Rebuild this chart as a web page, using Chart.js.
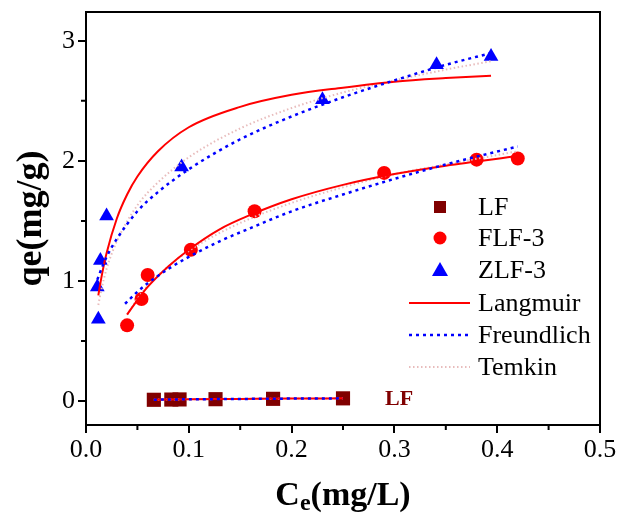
<!DOCTYPE html>
<html><head><meta charset="utf-8">
<script src="https://cdn.jsdelivr.net/npm/chart.js@4/dist/chart.umd.min.js"></script>
<style>html,body{margin:0;padding:0;background:#fff;}#wrap{width:622px;height:517px;}</style>
</head><body><div id="wrap"><canvas id="c" width="622" height="517"></canvas></div>
<script>
// ---- data ----
const xTicks = [0, 0.1, 0.2, 0.3, 0.4, 0.5];
const xMinor = [0.05, 0.15, 0.25, 0.35, 0.45];
const yTicks = [0, 1, 2, 3];
const yMinor = [0.5, 1.5, 2.5];

const lfX = [0.066, 0.083, 0.091, 0.126, 0.182, 0.250];
const lfY = [0.010, 0.012, 0.013, 0.015, 0.018, 0.022];
const flfX = [0.040, 0.054, 0.060, 0.102, 0.164, 0.290, 0.380, 0.420];
const flfY = [0.63, 0.85, 1.05, 1.26, 1.58, 1.90, 2.01, 2.02];
const zlfX = [0.012, 0.011, 0.014, 0.020, 0.093, 0.230, 0.341, 0.394];
const zlfY = [0.68, 0.95, 1.17, 1.54, 1.95, 2.51, 2.80, 2.87];

const zlfLangX = [0.012,0.015,0.02,0.03,0.04,0.05,0.07,0.1,0.15,0.2,0.25,0.3,0.35,0.394];
const zlfLangY = [0.88,1.03,1.23,1.52,1.72,1.87,2.08,2.28,2.45,2.55,2.61,2.66,2.69,2.71];
const zlfFreuX = [0.011,0.015,0.02,0.03,0.05,0.07,0.1,0.15,0.2,0.25,0.3,0.35,0.395];
const zlfFreuY = [1.01,1.10,1.20,1.35,1.58,1.74,1.93,2.18,2.37,2.53,2.67,2.80,2.90];
const zlfTemX = [0.012,0.015,0.02,0.03,0.05,0.07,0.1,0.15,0.2,0.25,0.3,0.35,0.394];
const zlfTemY = [0.80,0.93,1.10,1.33,1.63,1.82,2.03,2.27,2.44,2.57,2.67,2.76,2.83];
const flfLangX = [0.04,0.05,0.06,0.08,0.1,0.13,0.16,0.2,0.25,0.3,0.35,0.42];
const flfLangY = [0.72,0.84,0.95,1.12,1.26,1.43,1.55,1.68,1.80,1.89,1.96,2.04];
const flfFreuX = [0.038,0.05,0.06,0.08,0.1,0.13,0.16,0.2,0.25,0.3,0.35,0.42];
const flfFreuY = [0.81,0.91,0.98,1.10,1.20,1.33,1.44,1.58,1.72,1.85,1.97,2.12];
const flfTemX = [0.04,0.05,0.06,0.08,0.1,0.13,0.16,0.2,0.25,0.3,0.35,0.42];
const flfTemY = [0.72,0.85,0.96,1.12,1.25,1.40,1.52,1.65,1.78,1.89,1.97,2.08];
const lfFitX = [0.066,0.1,0.15,0.2,0.25];
const lfFitY = [0.011,0.014,0.017,0.020,0.022];

const legendLabels = ['LF','FLF-3','ZLF-3','Langmuir','Freundlich','Temkin'];

// ---- styles ----
const SERIF = "'Liberation Serif','Times New Roman',serif";
const C_LF = '#800000', C_RED = '#ff0000', C_BLUE = '#0000ff', C_TEM = '#e8bcbc';
const pts = (xs, ys) => xs.map((x, i) => ({x, y: ys[i]}));

function lineDs(xs, ys, kind) {
  const s = {
    langmuir: {borderColor: C_RED, borderWidth: 2, borderDash: [], order: 1},
    freundlich: {borderColor: C_BLUE, borderWidth: 2.5, borderDash: [3, 4], order: 0},
    temkin: {borderColor: C_TEM, borderWidth: 2, borderDash: [1.5, 2.5], order: 2}
  }[kind];
  return Object.assign({data: pts(xs, ys), showLine: true, pointRadius: 0, fill: false,
    cubicInterpolationMode: 'monotone'}, s);
}

const datasets = [
  {data: pts(lfX, lfY), pointStyle: 'rect', pointRadius: 10, backgroundColor: C_LF, borderColor: C_LF, borderWidth: 0, order: 5},
  {data: pts(flfX, flfY), pointStyle: 'circle', pointRadius: 7, backgroundColor: C_RED, borderColor: C_RED, borderWidth: 0, order: 5},
  {data: pts(zlfX, zlfY), pointStyle: 'triangle', pointRadius: 8.5, backgroundColor: C_BLUE, borderColor: C_BLUE, borderWidth: 0, order: 5},
  lineDs(zlfTemX, zlfTemY, 'temkin'),
  lineDs(flfTemX, flfTemY, 'temkin'),
  lineDs(lfFitX, lfFitY, 'temkin'),
  lineDs(zlfLangX, zlfLangY, 'langmuir'),
  lineDs(flfLangX, flfLangY, 'langmuir'),
  lineDs(lfFitX, lfFitY, 'langmuir'),
  lineDs(zlfFreuX, zlfFreuY, 'freundlich'),
  lineDs(flfFreuX, flfFreuY, 'freundlich'),
  lineDs(lfFitX, lfFitY, 'freundlich')
];

const deco = {
  id: 'deco',
  afterDraw(chart) {
    const {ctx, chartArea: a, scales: {x, y}} = chart;
    ctx.save();
    ctx.strokeStyle = '#000'; ctx.lineWidth = 2;
    ctx.strokeRect(a.left, a.top, a.right - a.left, a.bottom - a.top);
    ctx.beginPath();
    xMinor.forEach(v => { const p = x.getPixelForValue(v); ctx.moveTo(p, a.bottom); ctx.lineTo(p, a.bottom + 5); });
    yMinor.forEach(v => { const p = y.getPixelForValue(v); ctx.moveTo(a.left, p); ctx.lineTo(a.left - 5, p); });
    ctx.stroke();

    // x title with subscript
    ctx.fillStyle = '#000';
    ctx.textBaseline = 'alphabetic';
    ctx.textAlign = 'left';
    const big = 'bold 34px ' + SERIF, small = 'bold 24px ' + SERIF;
    ctx.font = big; const wC = ctx.measureText('C').width; const wR = ctx.measureText('(mg/L)').width;
    ctx.font = small; const wE = ctx.measureText('e').width;
    let sx = (a.left + a.right) / 2 - (wC + wE + wR) / 2; const by = 505;
    ctx.font = big; ctx.fillText('C', sx, by); sx += wC;
    ctx.font = small; ctx.fillText('e', sx, by + 5); sx += wE;
    ctx.font = big; ctx.fillText('(mg/L)', sx, by);

    // y title
    ctx.save();
    ctx.translate(32, (a.top + a.bottom) / 2);
    ctx.rotate(-Math.PI / 2);
    ctx.textAlign = 'center'; ctx.textBaseline = 'middle';
    ctx.font = 'bold 36px ' + SERIF; ctx.fillText('qe(mg/g)', 0, 0);
    ctx.restore();

    // LF annotation
    ctx.font = 'bold 22px ' + SERIF; ctx.fillStyle = C_LF;
    ctx.textAlign = 'left'; ctx.textBaseline = 'middle';
    ctx.fillText('LF', 385, 399);

    // legend
    const rows = [207, 238, 270, 303, 335, 367];
    const mx = 440;
    ctx.fillStyle = C_LF; ctx.fillRect(mx - 6, rows[0] - 6, 12, 12);
    ctx.fillStyle = C_RED; ctx.beginPath(); ctx.arc(mx, rows[1], 6.5, 0, Math.PI * 2); ctx.fill();
    ctx.fillStyle = C_BLUE; ctx.beginPath();
    ctx.moveTo(mx, rows[2] - 8); ctx.lineTo(mx + 8, rows[2] + 6); ctx.lineTo(mx - 8, rows[2] + 6); ctx.closePath(); ctx.fill();
    const seg = (yy, col, w, dash) => { ctx.strokeStyle = col; ctx.lineWidth = w; ctx.setLineDash(dash);
      ctx.beginPath(); ctx.moveTo(409, yy); ctx.lineTo(470, yy); ctx.stroke(); };
    seg(rows[3], C_RED, 2, []);
    seg(rows[4], C_BLUE, 2.5, [3, 4]);
    seg(rows[5], C_TEM, 2, [1.5, 2.5]);
    ctx.setLineDash([]);
    ctx.fillStyle = '#000'; ctx.font = '26px ' + SERIF; ctx.textAlign = 'left'; ctx.textBaseline = 'middle';
    legendLabels.forEach((t, i) => ctx.fillText(t, 478, rows[i] + 1));
    ctx.restore();
  }
};

new Chart(document.getElementById('c'), {
  type: 'scatter',
  data: {datasets},
  options: {
    responsive: false, devicePixelRatio: 1, animation: false,
    layout: {padding: {left: 0, right: 22, top: 12, bottom: 0}},
    plugins: {legend: {display: false}, tooltip: {enabled: false}},
    elements: {line: {tension: 0}},
    scales: {
      x: {
        type: 'linear', min: 0, max: 0.5,
        afterBuildTicks: s => { s.ticks = xTicks.map(v => ({value: v})); },
        afterFit: s => { s.height = 92; s.paddingLeft = 0; s.paddingRight = 0; },
        ticks: {callback: v => Number(v).toFixed(1), font: {family: SERIF, size: 26}, color: '#000', padding: 2, maxRotation: 0, autoSkip: false},
        grid: {drawOnChartArea: false, drawTicks: true, tickLength: 8, lineWidth: 2, color: '#000'},
        border: {display: false}
      },
      y: {
        type: 'linear', min: -0.2, max: 3.24,
        afterBuildTicks: s => { s.ticks = yTicks.map(v => ({value: v})); },
        afterFit: s => { s.width = 86; s.paddingTop = 0; s.paddingBottom = 0; },
        ticks: {callback: v => String(v), font: {family: SERIF, size: 26}, color: '#000', padding: 3, autoSkip: false},
        grid: {drawOnChartArea: false, drawTicks: true, tickLength: 8, lineWidth: 2, color: '#000'},
        border: {display: false}
      }
    }
  },
  plugins: [deco]
});
</script></body></html>
